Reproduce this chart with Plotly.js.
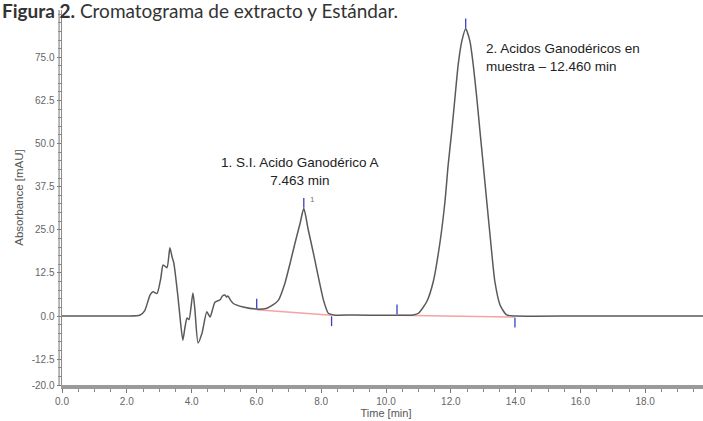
<!DOCTYPE html>
<html>
<head>
<meta charset="utf-8">
<script src="https://cdn.plot.ly/plotly-3.0.1.min.js"></script>
<style>
  html, body { margin: 0; padding: 0; overflow: hidden; background: #fff; }
  #chart { width: 720px; height: 421px; }
</style>
</head>
<body>
<div id="chart"></div>
<script>
// Chromatogram signal (time in min, absorbance in mAU)
const timeMin = [0, 1.0, 2.0, 2.4, 2.55, 2.72, 2.81, 2.93, 3.05, 3.12, 3.24, 3.33, 3.4, 3.45, 3.58, 3.66, 3.73, 3.8, 3.86, 3.92,
  4.04, 4.1, 4.2, 4.32, 4.47, 4.57, 4.72, 4.88, 4.95, 5.03, 5.08, 5.12, 5.2, 5.28, 5.59, 6.0, 6.3, 6.42, 6.68, 6.88,
  7.04, 7.19, 7.35, 7.463, 7.6, 7.76, 7.91, 8.07, 8.22, 8.38, 9.0, 10.0, 10.6, 10.84, 11.0, 11.26, 11.46, 11.67, 11.82, 11.92,
  12.03, 12.13, 12.23, 12.34, 12.46, 12.59, 12.69, 12.8, 12.9, 13.0, 13.11, 13.23, 13.36, 13.52, 13.72, 14.0, 16.0, 18.0, 20.0];
const absorbance = [0, 0, 0, 0.2, 1.5, 6.1, 7.0, 6.5, 11.0, 14.8, 14.0, 19.8, 17.0, 15.4, 5.5, -2.0, -7.0, -3.0, -0.6, -1.0,
  6.7, 2.0, -7.8, -5.0, 1.2, -0.3, 4.0, 4.7, 5.8, 6.1, 5.5, 5.8, 4.6, 3.7, 2.6, 2.0, 2.2, 2.7, 4.6, 9.5,
  15.3, 21.1, 26.9, 31.2, 25.0, 18.2, 11.4, 4.6, 0.8, 0.3, 0.3, 0.2, 0.2, 0.3, 0.8, 4.2, 10.0, 21.6, 33.2, 43.9,
  53.6, 63.4, 73.0, 79.7, 83.3, 79.7, 73.0, 63.4, 53.6, 43.9, 33.2, 21.6, 10.0, 3.2, 0.3, 0, 0, 0, 0];

// Integration baselines (red)
const base1Time = [6.01, 8.32];
const base1Abs = [1.8, 0.2];
const base2Time = [10.34, 13.98];
const base2Abs = [0.2, -0.3];

// Peak start / apex / end markers (blue ticks)
const markTime = [6.01, 7.463, 8.32, 10.34, 12.46, 13.98];
const markAbs = [3.6, 32.8, -1.5, 1.9, 84.8, -1.9];

// Peak number labels
const peakNumTime = [7.463];
const peakNumAbs = [33.8];
const peakNumText = ['1'];

// Axis ticks
const yTickVals = [-20, -12.5, 0, 12.5, 25, 37.5, 50, 62.5, 75];
const yTickText = ['-20.0', '-12.5', '0.0', '12.5', '25.0', '37.5', '50.0', '62.5', '75.0'];
const xTickVals = [0, 2, 4, 6, 8, 10, 12, 14, 16, 18, 20];
const xTickText = ['0.0', '2.0', '4.0', '6.0', '8.0', '10.0', '12.0', '14.0', '16.0', '18.0', '20.0'];

const sans = 'Liberation Sans, Arial, sans-serif';
const tickFont = { family: sans, size: 10, color: '#666' };

const traces = [
  { x: base1Time, y: base1Abs, mode: 'lines', line: { color: '#f5a3a3', width: 1.5 }, hoverinfo: 'skip' },
  { x: base2Time, y: base2Abs, mode: 'lines', line: { color: '#f5a3a3', width: 1.5 }, hoverinfo: 'skip' },
  { x: timeMin, y: absorbance, mode: 'lines', line: { color: '#5a5a5a', width: 1.5, shape: 'spline', smoothing: 0.6 } },
  { x: markTime, y: markAbs, mode: 'markers', marker: { symbol: 'line-ns-open', size: 7, color: '#3a3fc0', line: { width: 1.3, color: '#3a3fc0' } } }
];

const peakLabels = peakNumText.map((t, i) => ({
  x: peakNumTime[i], y: peakNumAbs[i], xref: 'x', yref: 'y', showarrow: false, text: t,
  xanchor: 'left', xshift: 4, font: { family: sans, size: 8, color: '#777' }
}));

const layout = {
  width: 720,
  height: 421,
  margin: { l: 62, r: 10, t: 10, b: 36 },
  paper_bgcolor: '#fff',
  plot_bgcolor: '#fff',
  showlegend: false,
  xaxis: {
    range: [0, 20],
    tickmode: 'array', tickvals: xTickVals, ticktext: xTickText,
    ticks: 'outside', ticklen: 4, tickcolor: '#777', tickwidth: 1,
    minor: { tickmode: 'linear', tick0: 0, dtick: 0.5, ticks: 'outside', ticklen: 3, tickcolor: '#888' },
    showgrid: false, zeroline: false,
    showline: true, linecolor: '#9a9a9a', linewidth: 4,
    tickfont: tickFont,
    title: { text: 'Time [min]', font: { family: sans, size: 11, color: '#555' }, standoff: 1 },
    automargin: false
  },
  yaxis: {
    range: [-20, 88.7],
    tickmode: 'array', tickvals: yTickVals, ticktext: yTickText,
    ticks: 'outside', ticklen: 4, tickcolor: '#777', tickwidth: 1,
    minor: { tickmode: 'linear', tick0: 0, dtick: 2.5, ticks: 'outside', ticklen: 3, tickcolor: '#888' },
    showgrid: false, zeroline: false,
    showline: true, linecolor: '#8a8a8a', linewidth: 1.5,
    tickfont: tickFont,
    title: { text: 'Absorbance [mAU]', font: { family: sans, size: 11.5, color: '#555' }, standoff: 5 },
    automargin: false
  },
  shapes: [
    { type: 'line', xref: 'paper', yref: 'paper', x0: -0.0045, x1: -0.0045, y0: 0, y1: 1, line: { color: '#8a8a8a', width: 1.2 } }
  ],
  annotations: [
    { xref: 'paper', yref: 'paper', x: -0.0957, y: 1.0347, xanchor: 'left', yanchor: 'top', showarrow: false,
      text: '<b>Figura 2.</b> Cromatograma de extracto y Estándar.',
      font: { family: 'Lato, sans-serif', size: 19, color: '#333' } },
    { x: 7.35, y: 42, xref: 'x', yref: 'y', showarrow: false, align: 'center',
      text: '1. S.I. Acido Ganodérico A<br>7.463 min',
      font: { family: sans, size: 13.5, color: '#222' } },
    { x: 13.02, y: 75, xref: 'x', yref: 'y', showarrow: false, align: 'left', xanchor: 'left',
      text: '2. Acidos Ganodéricos en<br>muestra – 12.460 min',
      font: { family: sans, size: 13.5, color: '#222' } }
  ].concat(peakLabels)
};

Plotly.newPlot('chart', traces, layout, { displayModeBar: false, staticPlot: true });
</script>
</body>
</html>
